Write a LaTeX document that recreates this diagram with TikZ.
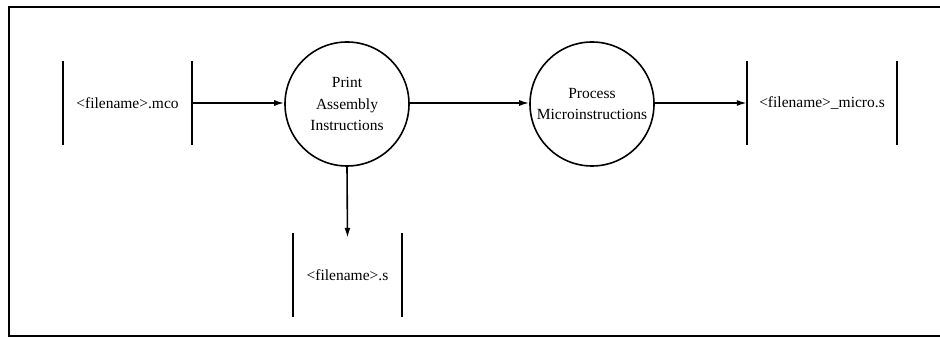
\documentclass[tikz,border=0pt]{standalone}
\usepackage{fontspec}
\setmainfont{Liberation Serif}
\usetikzlibrary{arrows.meta}
\begin{document}
\begin{tikzpicture}[x=1pt,y=-1pt,
  proc/.style={circle,draw,line width=1.6pt,minimum size=124pt,inner sep=0pt,align=center,font=\fontsize{15.5}{21.5}\selectfont},
  store/.style={minimum width=#1,minimum height=84pt,inner sep=0pt,font=\fontsize{15.5}{21}\selectfont},
  bar/.style={line width=1.8pt},
  flow/.style={line width=1.6pt,-{Latex[length=10pt,width=6pt]}}]
\useasboundingbox (0,0) rectangle (940,339);
\draw[line width=2.2pt] (945,7) -- (9,7) -- (9,336) -- (945,336);
\node[store=129pt] (mco) at (127.5,103) {<filename>.mco};
\node[store=109pt] (dots) at (347.5,275) {<filename>.s};
\node[store=150pt] (micro) at (822,103) {<filename>\_micro.s};
\node[proc] (pai) at (347,104) {Print\\Assembly\\Instructions};
\node[proc] (pm) at (592,104) {Process\\Microinstructions};
\foreach \n in {mco,dots,micro}{
  \draw[bar] (\n.north west) -- (\n.south west);
  \draw[bar] (\n.north east) -- (\n.south east);
}
\draw[flow] (mco.east |- 0,103) -- (pai.west |- 0,103);
\draw[flow] (pai.east |- 0,103) -- (pm.west |- 0,103);
\draw[flow] (pm.east |- 0,103) -- (micro.west |- 0,103);
\draw[flow] (pai.south) -- ([yshift=-5pt]dots.north);
\end{tikzpicture}
\end{document}
